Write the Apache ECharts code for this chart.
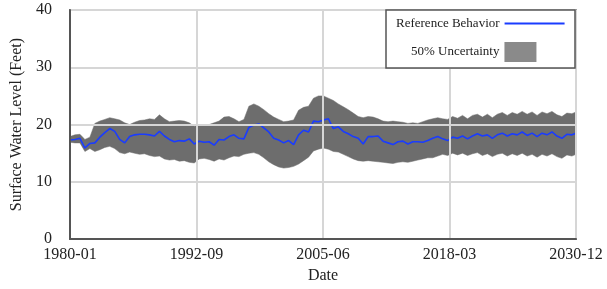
<!DOCTYPE html>
<html>
<head>
<meta charset="utf-8">
<script src="https://cdn.jsdelivr.net/npm/echarts@6/dist/echarts.min.js"></script>
<style>html,body{margin:0;padding:0;background:#fff}#c{width:607px;height:289px}</style>
</head>
<body>
<div id="c"></div>
<script>
// x-axis tick labels (monthly index 0 = 1980-01, 611 = 2030-12)
var tickLabels = ['1980-01', '1992-09', '2005-06', '2018-03', '2030-12'];
// sample months (every 6 months + final month)
var months = [];
for (var m = 0; m <= 606; m += 6) months.push(m);
months.push(611);

// Reference Behavior (feet)
var reference = [
17.3,17.4,17.6,15.9,16.7,16.8,17.8,18.6,19.3,18.8,17.4,16.8,17.9,18.2,18.3,18.3,18.2,18.0,18.8,18.0,17.4,17.0,17.2,17.1,17.5,16.6,17.1,16.9,17.0,
16.4,17.4,17.3,17.9,18.2,17.6,17.5,19.5,19.9,20.1,19.4,18.7,17.6,17.3,16.8,17.2,16.5,18.2,19.0,18.7,
20.6,20.5,20.8,21.0,19.3,19.6,18.8,18.4,17.9,17.6,16.6,17.9,17.9,18.0,17.1,16.8,16.5,17.0,17.1,16.6,17.0,17.0,16.9,17.2,17.6,17.9,17.5,17.2,17.8,17.6,18.0,17.5,18.0,18.4,18.0,18.2,17.6,18.2,18.5,18.0,18.4,18.2,18.7,18.1,18.5,17.9,18.5,18.2,
18.7,18.0,17.6,18.3,18.2,18.5
];
// 50% uncertainty band, upper bound
var upper = [
17.9,18.2,18.3,17.4,17.8,20.2,20.6,20.9,21.2,21.0,20.8,20.3,20.0,20.4,20.7,20.8,21.0,20.9,21.7,21.0,20.5,20.6,20.7,20.6,20.3,19.7,19.9,19.8,20.0,
20.3,20.6,21.3,21.4,21.0,20.5,20.9,23.2,23.6,23.2,22.6,21.9,21.3,20.9,20.5,20.6,20.8,22.5,23.0,23.2,
24.6,25.0,25.0,24.6,24.2,23.6,23.1,22.6,22.0,21.4,21.2,21.4,21.3,21.0,20.6,20.5,20.6,20.5,20.4,20.2,20.3,20.2,20.5,20.8,21.0,21.2,21.0,20.9,21.4,21.1,21.6,21.0,21.6,21.8,21.3,21.8,21.2,21.8,22.1,21.6,22.1,21.8,22.3,21.8,22.2,21.6,22.2,21.9,
22.3,21.7,21.4,22.0,21.9,22.2
];
// 50% uncertainty band, lower bound
var lower = [
16.9,16.8,16.8,15.3,15.8,15.3,15.6,16.0,16.2,15.8,15.1,14.9,15.2,15.0,14.8,14.9,14.6,14.4,14.5,14.0,13.8,13.9,13.6,13.7,13.4,13.3,14.0,14.1,13.9,
13.6,14.0,13.8,14.2,14.5,14.4,14.8,15.0,15.1,14.8,14.2,13.5,13.0,12.6,12.4,12.5,12.7,13.1,13.7,14.3,
15.4,15.7,15.9,15.7,15.3,15.2,14.8,14.4,14.0,13.7,13.6,13.7,13.6,13.5,13.4,13.3,13.2,13.4,13.5,13.4,13.6,13.8,14.0,14.2,14.2,14.5,14.8,14.6,15.0,14.7,15.0,14.6,14.9,15.1,14.6,14.9,14.4,14.8,15.0,14.5,14.9,14.6,15.0,14.5,14.8,14.3,14.8,14.5,
14.9,14.4,14.1,14.7,14.5,14.8
];

var bandData = [], refData = [];
for (var i = 0; i < months.length; i++) {
  bandData.push([months[i], lower[i], upper[i]]);
  refData.push([months[i], reference[i]]);
}
var FONT = '"Liberation Serif", "DejaVu Serif", serif';
var chart = echarts.init(document.getElementById('c'), null, {renderer: 'canvas'});
chart.setOption({
  animation: false,
  grid: {left: 70, right: 31, top: 10, bottom: 49, show: true, borderColor: '#555', borderWidth: 1.5, backgroundColor: 'transparent'},
  xAxis: {
    type: 'value', min: 0, max: 611, interval: 152.75, z: 5,
    name: 'Date', nameLocation: 'middle', nameGap: 25,
    nameTextStyle: {fontFamily: FONT, fontSize: 16, color: '#222'},
    axisLine: {show: true, lineStyle: {color: '#555', width: 2}},
    axisTick: {show: false},
    axisLabel: {fontFamily: FONT, fontSize: 16, color: '#222', margin: 8,
      showMinLabel: true, showMaxLabel: true,
      formatter: function (v) { return tickLabels[Math.round(v / 152.75)] || ''; }},
    splitLine: {show: true, lineStyle: {color: '#d6d6d6', width: 2}}
  },
  yAxis: {
    type: 'value', min: 0, max: 40, interval: 10, z: 5,
    name: 'Surface Water Level (Feet)', nameLocation: 'middle', nameGap: 45,
    nameTextStyle: {fontFamily: FONT, fontSize: 16, color: '#222'},
    axisLine: {show: true, lineStyle: {color: '#555', width: 2}},
    axisTick: {show: false},
    axisLabel: {fontFamily: FONT, fontSize: 16, color: '#222', margin: 18, padding: [6, 0, 0, 0]},
    splitLine: {show: true, lineStyle: {color: '#d6d6d6', width: 2}}
  },
  graphic: [{
    type: 'rect', z: 100,
    shape: {x: 386, y: 10, width: 189, height: 58},
    style: {fill: '#fff', stroke: '#555', lineWidth: 1.5}
  }],
  legend: [{
    z: 101, left: 396, top: 17, align: 'right', padding: 0,
    itemWidth: 60, itemHeight: 2, itemGap: 5,
    textStyle: {fontFamily: FONT, fontSize: 13, color: '#222'},
    data: [{name: 'Reference Behavior', icon: 'rect', itemStyle: {color: '#1a3cff'}}]
  }, {
    z: 101, left: 411, top: 42, align: 'right', padding: 0,
    itemWidth: 32, itemHeight: 20,
    textStyle: {fontFamily: FONT, fontSize: 13, color: '#222'},
    data: [{name: '50% Uncertainty', icon: 'rect', itemStyle: {color: '#8a8a8a'}}]
  }],
  series: [{
    name: '50% Uncertainty', type: 'custom', data: bandData, z: 1,
    itemStyle: {color: '#6d6d6d'},
    encode: {x: 0, y: [1, 2]},
    renderItem: function (params, api) {
      if (params.dataIndex !== 0) return null;
      var top = [], bot = [];
      for (var k = 0; k < bandData.length; k++) {
        top.push(api.coord([bandData[k][0], bandData[k][2]]));
        bot.push(api.coord([bandData[k][0], bandData[k][1]]));
      }
      var pts = top.concat(bot.reverse());
      return {type: 'polygon', shape: {points: pts}, style: {fill: '#6d6d6d', stroke: '#6d6d6d', lineWidth: 0.5}};
    }
  }, {
    name: 'Reference Behavior', type: 'line', data: refData,
    symbol: 'none', lineStyle: {color: '#1a3cff', width: 1.6}, z: 2
  }]
});
</script>
</body>
</html>
